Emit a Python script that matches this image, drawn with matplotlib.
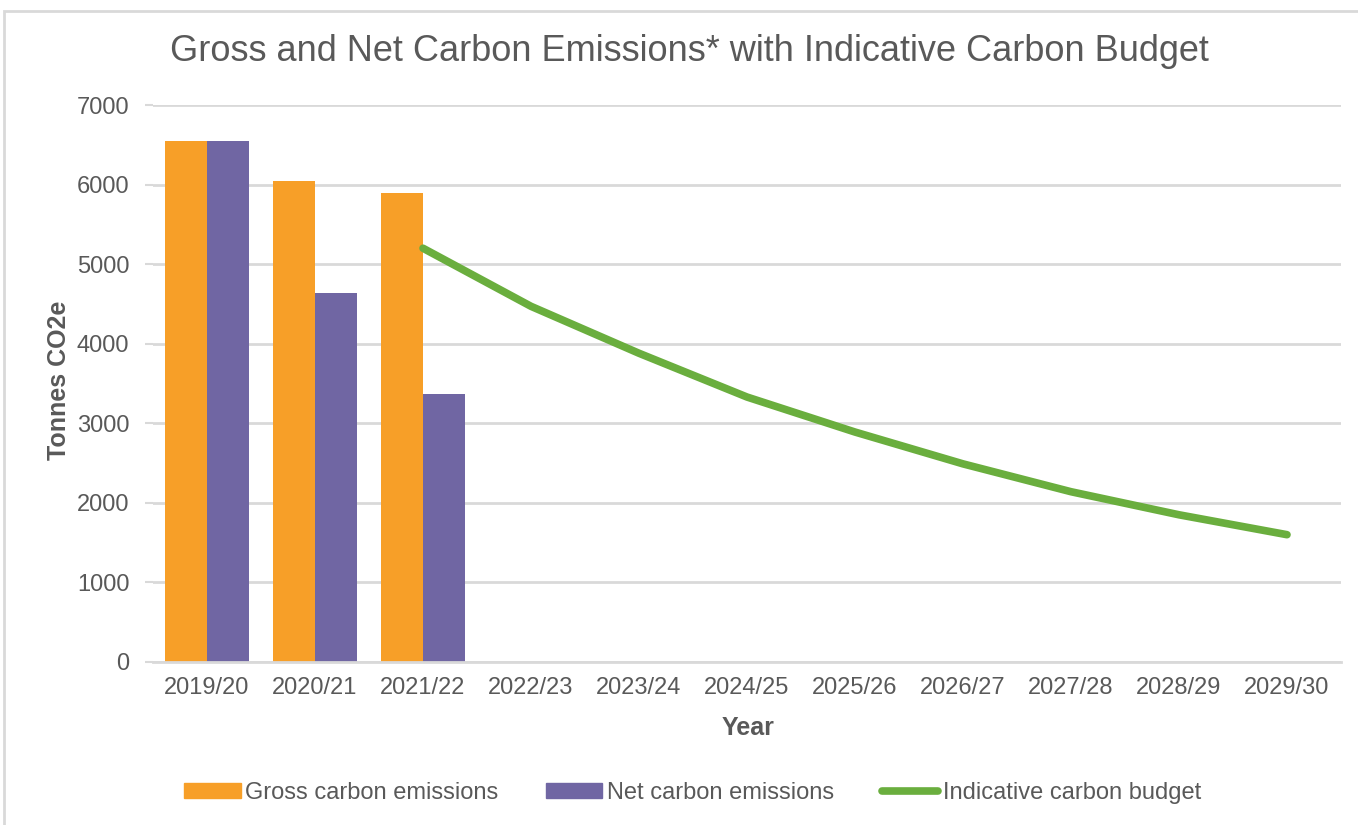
import matplotlib
matplotlib.use('Agg')
from matplotlib import pyplot as plt
from matplotlib.patches import Patch, Rectangle
from matplotlib.lines import Line2D
import numpy as np

years = ['2019/20', '2020/21', '2021/22', '2022/23', '2023/24', '2024/25',
         '2025/26', '2026/27', '2027/28', '2028/29', '2029/30']
gross = [6550, 6040, 5890]
net = [6550, 4640, 3370]
budget = [np.nan, np.nan, 5200, 4470, 3880, 3330, 2890, 2490, 2140, 1850, 1600]

orange = '#F79F28'
purple = '#7066A3'
green = '#6AAE3E'
txt = '#595959'

plt.rcParams['font.family'] = ['Liberation Sans', 'DejaVu Sans']

fig = plt.figure(figsize=(13.58, 8.25), dpi=100)
fig.patches.append(Rectangle((4/1358, -0.1), 1.2, 1 - 11/825 + 0.1,
                             transform=fig.transFigure, fill=False,
                             edgecolor='#D9D9D9', linewidth=2))
ax = fig.add_axes([153/1358, 1 - 662/825, (1341 - 153)/1358, (662 - 105)/825])

x = np.arange(len(years))
w = 0.39
ax.bar(x[:3] - w/2, gross, w, color=orange, zorder=2)
ax.bar(x[:3] + w/2, net, w, color=purple, zorder=2)
ax.plot(x, budget, color=green, linewidth=5.5, solid_capstyle='round',
        solid_joinstyle='round', zorder=3)

ax.set_xlim(-0.5, len(years) - 0.5)
ax.set_ylim(0, 7000)
ax.set_yticks(range(0, 7001, 1000))
ax.set_xticks(x)
ax.set_xticklabels(years)
ax.grid(axis='y', color='#D9D9D9', linewidth=2, zorder=0)
ax.set_axisbelow(True)
for s in ['top', 'right', 'left']:
    ax.spines[s].set_visible(False)
ax.spines['bottom'].set_color('#D9D9D9')
ax.spines['bottom'].set_linewidth(2)
ax.tick_params(axis='x', length=0, pad=11, labelsize=17, labelcolor=txt)
ax.tick_params(axis='y', length=6, width=1.5, color='#D9D9D9', pad=11,
               labelsize=17, labelcolor=txt)

fig.text(0.508, 0.937, 'Gross and Net Carbon Emissions* with Indicative Carbon Budget',
         ha='center', va='center', fontsize=26, color=txt)
fig.text(0.0435, 0.539, 'Tonnes CO2e', rotation=90, ha='center', va='center',
         fontsize=18, fontweight='bold', color=txt)
fig.text(0.551, 0.118, 'Year', ha='center', va='center',
         fontsize=18, fontweight='bold', color=txt)

handles = [Patch(color=orange), Patch(color=purple),
           Line2D([0], [0], color=green, linewidth=5.5, solid_capstyle='round')]
labels = ['Gross carbon emissions', 'Net carbon emissions', 'Indicative carbon budget']
fig.legend(handles, labels, loc='center', bbox_to_anchor=(0.51, 0.039), ncol=3,
           frameon=False, fontsize=17, labelcolor=txt, handlelength=2.4,
           handleheight=0.55, handletextpad=0.2, columnspacing=2.0)

fig.savefig('out.png', dpi=100)
